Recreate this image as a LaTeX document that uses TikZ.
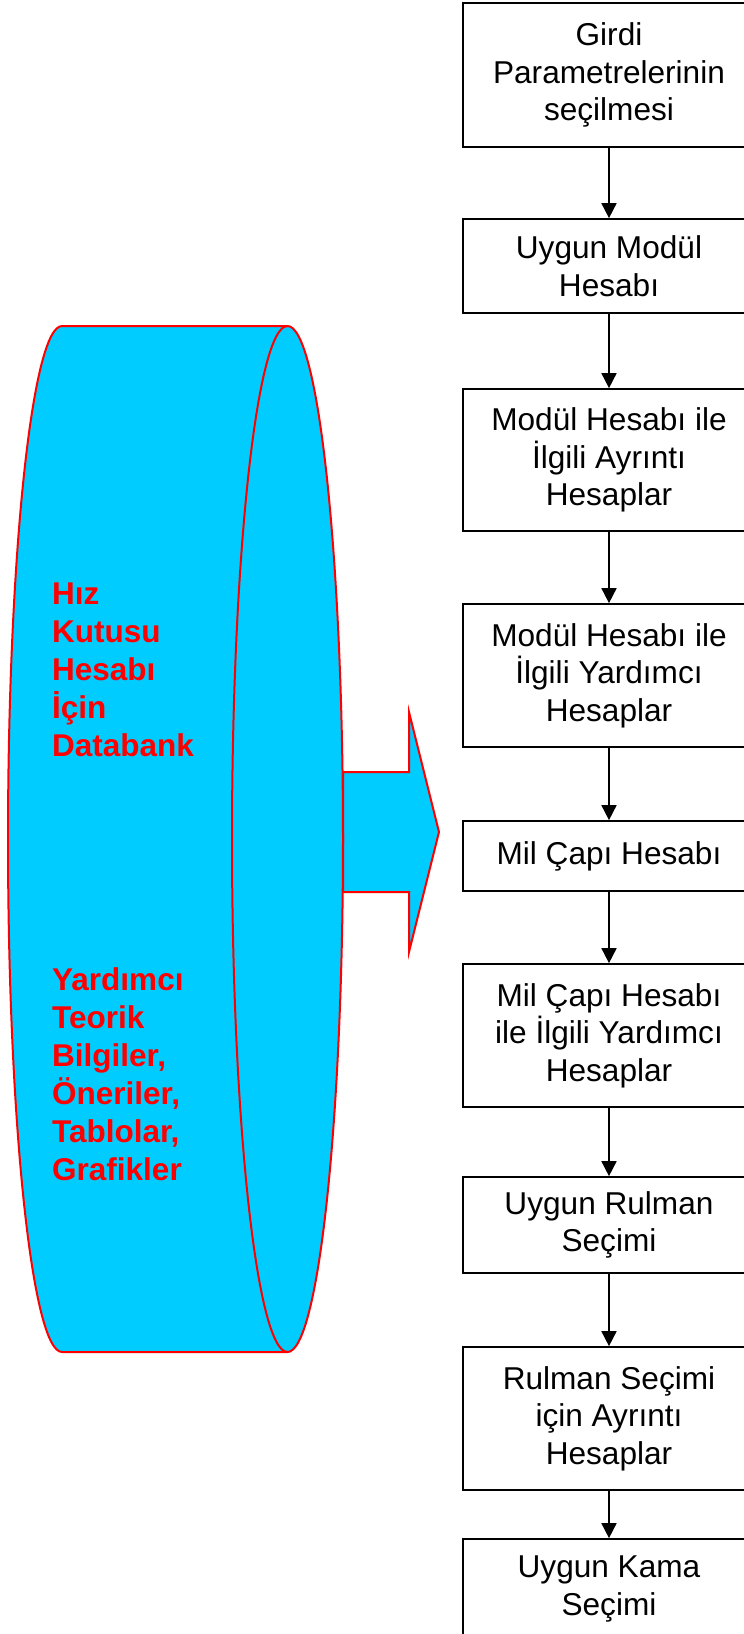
\documentclass[tikz,border=0pt]{standalone}
\usepackage{fontspec}
\setmainfont{Liberation Sans}
\usetikzlibrary{arrows.meta}
\definecolor{cylfill}{HTML}{00CCFF}
\tikzset{
  box/.style={draw=black, line width=1.7pt, fill=white, minimum width=292pt, inner sep=0pt, align=center,
    font=\fontsize{31.6}{37.5}\selectfont},
  flow/.style={draw=black, line width=1.7pt, -{Triangle[width=15pt,length=15pt]}},
  redline/.style={draw=red, line width=2pt, fill=cylfill, line join=miter},
  dbtext/.style={anchor=north west, inner sep=0pt, align=left, text=red,
    font=\fontsize{31.5}{38}\selectfont\bfseries}
}
\begin{document}
\begin{tikzpicture}[x=1pt,y=-1pt]
\useasboundingbox (0,0) rectangle (744,1634);
% block arrow
\filldraw[redline] (343,772) -- (409,772) -- (409,712) -- (439,832) -- (409,952) -- (409,892) -- (343,892) -- cycle;
% cylinder
\filldraw[redline] (62,326) -- (287.5,326) arc[start angle=-90, end angle=90, x radius=55.5, y radius=513]
  -- (62,1352) arc[start angle=90, end angle=270, x radius=54, y radius=513] -- cycle;
\draw[redline, fill=none] (287.5,326) arc[start angle=-90, end angle=-270, x radius=55.5, y radius=513];
\node[dbtext] (db1) at (52,583) {Hız\\Kutusu\\Hesabı\\İçin\\Databank};
\node[dbtext] (db2) at (52,967) {Yardımcı\\Teorik\\Bilgiler,\\Öneriler,\\Tablolar,\\Grafikler};
% flow boxes
\node[box, minimum height=144pt] (b1) at (609,75) {Girdi\\Parametrelerinin\\seçilmesi};
\node[box, minimum height=94pt] (b2) at (609,266) {Uygun Modül\\Hesabı};
\node[box, minimum height=142pt] (b3) at (609,460) {Modül Hesabı ile\\İlgili Ayrıntı\\Hesaplar};
\node[box, minimum height=143pt] (b4) at (609,675.5) {Modül Hesabı ile\\İlgili Yardımcı\\Hesaplar};
\node[box, minimum height=70pt] (b5) at (609,856) {Mil Çapı Hesabı};
\node[box, minimum height=143pt] (b6) at (609,1035.5) {Mil Çapı Hesabı\\ile İlgili Yardımcı\\Hesaplar};
\node[box, minimum height=96pt] (b7) at (609,1225) {Uygun Rulman\\Seçimi};
\node[box, minimum height=143pt] (b8) at (609,1418.5) {Rulman Seçimi\\için Ayrıntı\\Hesaplar};
\node[box, minimum height=100pt] (b9) at (609,1589) {Uygun Kama\\Seçimi};
\foreach \a/\b in {b1/b2,b2/b3,b3/b4,b4/b5,b5/b6,b6/b7,b7/b8,b8/b9}
  \draw[flow] (\a.south) -- (\b.north);
\end{tikzpicture}
\end{document}
